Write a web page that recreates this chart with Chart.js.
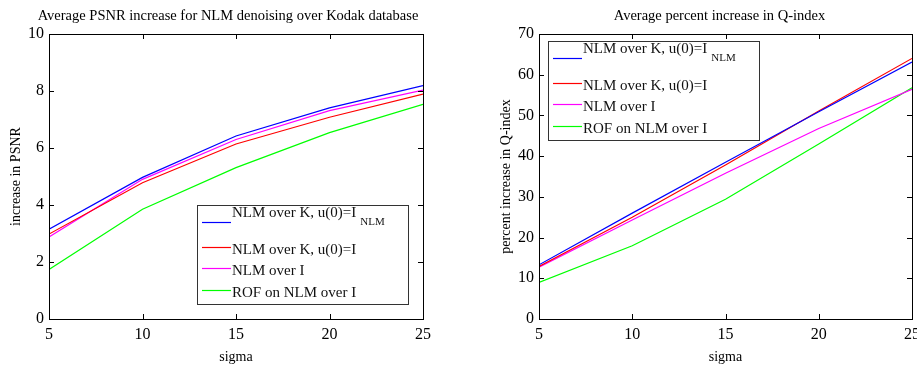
<!DOCTYPE html>
<html>
<head>
<meta charset="utf-8">
<script src="https://cdn.jsdelivr.net/npm/chart.js@4/dist/chart.umd.min.js"></script>
<style>
  html, body { margin: 0; padding: 0; background: #fff; }
  #wrap { position: relative; width: 917px; height: 366px; overflow: hidden; }
  #psnr { position: absolute; left: 0; top: 0; }
  #qidx { position: absolute; left: 458px; top: 0; }
</style>
</head>
<body>
<div id="wrap">
  <canvas id="psnr" width="458" height="366"></canvas>
  <canvas id="qidx" width="459" height="366"></canvas>
</div>
<script>
// sigma values (x axis)
const sigma = [5, 10, 15, 20, 25];

// series labels
const seriesNames = ["NLM over K, u(0)=I", "NLM over K, u(0)=I", "NLM over I", "ROF on NLM over I"];
const seriesSubs = ["NLM", "", "", ""];
const seriesColors = ["#0000ff", "#ff0000", "#ff00ff", "#00ff00"];

// left: PSNR increase
const psnrBlue = [3.15, 4.97, 6.42, 7.41, 8.19];
const psnrRed = [2.98, 4.78, 6.14, 7.08, 7.89];
const psnrMagenta = [2.88, 4.9, 6.3, 7.31, 8.03];
const psnrGreen = [1.74, 3.85, 5.31, 6.54, 7.53];

// right: Q-index percent increase
const qBlue = [13.3, 26.0, 38.5, 50.9, 63.1];
const qRed = [12.9, 25.0, 37.8, 51.1, 64.0];
const qMagenta = [12.7, 24.3, 35.8, 46.8, 56.4];
const qGreen = [9.0, 18.0, 29.4, 43.0, 56.8];

const serif = "'Liberation Serif', 'DejaVu Serif', serif";

// MATLAB-like axes box, inward ticks on all four sides, title and legend
const matlabBox = {
  id: "matlabBox",
  afterDraw(chart, args, opts) {
    const { ctx, chartArea: a, scales } = chart;
    const tl = 5;
    ctx.save();
    ctx.strokeStyle = "#000";
    ctx.lineWidth = 1;
    ctx.beginPath();
    scales.x.ticks.forEach(t => {
      const px = Math.round(scales.x.getPixelForValue(t.value)) + 0.5;
      ctx.moveTo(px, a.bottom); ctx.lineTo(px, a.bottom - tl);
      ctx.moveTo(px, a.top); ctx.lineTo(px, a.top + tl);
    });
    scales.y.ticks.forEach(t => {
      const py = Math.round(scales.y.getPixelForValue(t.value)) + 0.5;
      ctx.moveTo(a.left, py); ctx.lineTo(a.left + tl, py);
      ctx.moveTo(a.right, py); ctx.lineTo(a.right - tl, py);
    });
    ctx.stroke();
    ctx.strokeRect(Math.round(a.left) + 0.5, Math.round(a.top) + 0.5,
      Math.round(a.right - a.left), Math.round(a.bottom - a.top));

    // title
    ctx.fillStyle = "#000";
    ctx.font = "14.5px " + serif;
    ctx.textAlign = "center";
    ctx.textBaseline = "middle";
    ctx.fillText(opts.title, (a.left + a.right) / 2 + opts.titleShift, 16);

    // legend
    const lx = a.left + opts.legendX, ly = a.top + opts.legendY;
    const w = 211, h = 99;
    ctx.fillStyle = "#fff";
    ctx.fillRect(lx, ly, w, h);
    ctx.strokeStyle = "#333";
    ctx.strokeRect(lx + 0.5, ly + 0.5, w, h);
    const lineY = [17, 42, 63, 85];
    const textY = [8, 45, 66, 88];
    chart.data.datasets.forEach((ds, i) => {
      ctx.strokeStyle = seriesColors[i];
      ctx.lineWidth = 1.2;
      ctx.beginPath();
      ctx.moveTo(lx + 5, ly + lineY[i] + 0.5);
      ctx.lineTo(lx + 34, ly + lineY[i] + 0.5);
      ctx.stroke();
      ctx.fillStyle = "#111";
      ctx.textAlign = "left";
      ctx.textBaseline = "middle";
      ctx.font = "15px " + serif;
      ctx.fillText(ds.label, lx + 35, ly + textY[i]);
      if (seriesSubs[i]) {
        const tw = ctx.measureText(ds.label).width;
        ctx.font = "11px " + serif;
        ctx.fillText(seriesSubs[i], lx + 35 + tw + 4, ly + textY[i] + 9);
      }
    });
    ctx.restore();
  }
};

function makeChart(id, series, yMax, yStep, yTitle, yTitlePad, padRight, boxOpts) {
  const datasets = series.map((vals, i) => ({
    label: seriesNames[i],
    data: sigma.map((s, j) => ({ x: s, y: vals[j] })),
    borderColor: seriesColors[i],
    backgroundColor: seriesColors[i],
    borderWidth: 1.2,
    pointRadius: 0,
    tension: 0,
    fill: false
  }));
  return new Chart(document.getElementById(id), {
    type: "line",
    data: { datasets },
    options: {
      responsive: false,
      animation: false,
      layout: { padding: { left: 0, top: 34, right: padRight, bottom: 0 } },
      plugins: {
        legend: { display: false },
        tooltip: { enabled: false },
        matlabBox: boxOpts
      },
      scales: {
        x: {
          type: "linear",
          min: 5, max: 25,
          ticks: { stepSize: 5, color: "#000", padding: 6, font: { family: serif, size: 16 }, maxRotation: 0 },
          grid: { display: true, drawOnChartArea: false, drawTicks: false },
          border: { display: false },
          title: { display: true, text: "sigma", color: "#000", font: { family: serif, size: 14 }, padding: { top: 1, bottom: 0 } },
          afterFit: s => { s.height = 47; s.paddingLeft = 0; s.paddingRight = 0; }
        },
        y: {
          min: 0, max: yMax,
          ticks: { stepSize: yStep, color: "#000", padding: 5, font: { family: serif, size: 16 } },
          grid: { display: true, drawOnChartArea: false, drawTicks: false },
          border: { display: false },
          title: { display: true, text: yTitle, color: "#000", font: { family: serif, size: 14 }, padding: { top: yTitlePad, bottom: 0 } },
          afterFit: s => { s.width = boxOpts.yWidth; s.paddingTop = 0; s.paddingBottom = 0; }
        }
      }
    },
    plugins: [matlabBox]
  });
}

makeChart("psnr", [psnrBlue, psnrRed, psnrMagenta, psnrGreen], 10, 2, "increase in PSNR", 8, 35, {
  title: "Average PSNR increase for NLM denoising over Kodak database",
  titleShift: -8, legendX: 148, legendY: 171, yWidth: 49
});

makeChart("qidx", [qBlue, qRed, qMagenta, qGreen], 70, 10, "percent increase in Q-index", 40, 5, {
  title: "Average percent increase in Q-index",
  titleShift: -6, legendX: 9, legendY: 7, yWidth: 81
});
</script>
</body>
</html>
